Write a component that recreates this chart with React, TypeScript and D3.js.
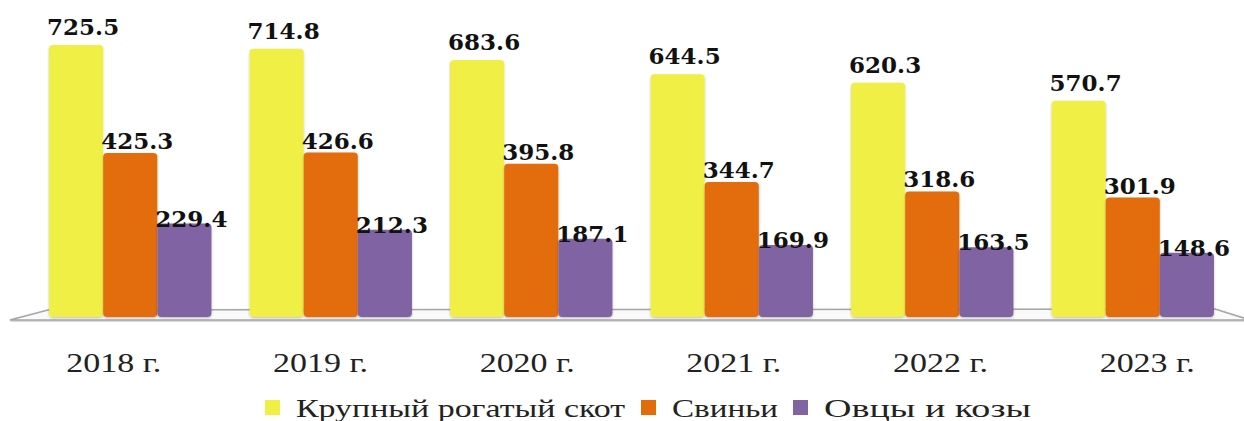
import React from 'react';
import * as d3 from 'd3';

// data
const years = ['2018 г.', '2019 г.', '2020 г.', '2021 г.', '2022 г.', '2023 г.'];
const seriesNames = ['Крупный рогатый скот', 'Свиньи', 'Овцы и козы'];
const cattle = [725.5, 714.8, 683.6, 644.5, 620.3, 570.7];
const pigs = [425.3, 426.6, 395.8, 344.7, 318.6, 301.9];
const sheep = [229.4, 212.3, 187.1, 169.9, 163.5, 148.6];
const colors = ['#f0ef44', '#e36c0a', '#8064a2'];

const W = 1244, H = 421;
const floorY = 317;
const labelFont = "'DejaVu Serif', serif";
const textFont = "'Liberation Serif', 'Times New Roman', serif";

const App = () => {
  const values = [cattle, pigs, sheep];

  // bars sit on the back edge of the floor, labels on its front edge
  const x = d3.scaleBand().domain(years).range([30, 1233]).paddingInner(0.19).paddingOuter(0.095);
  const xs = d3.scaleBand().domain(seriesNames).range([0, x.bandwidth()]);
  const xFront = d3.scaleBand().domain(years).range([10, 1250]);
  // floor of the 3d plot sits a bit below zero
  const y = d3.scaleLinear().domain([-30, 725.5]).range([floorY, 45]);

  const labelShift = [-10, -4, 3];

  // the source picture is stretched sideways, so the legend texts get fixed widths
  const legendItems = [
    { name: seriesNames[0], x: 265, w: 329 },
    { name: seriesNames[1], x: 641, w: 106 },
    { name: seriesNames[2], x: 793, w: 207 },
  ];

  return (
    <svg width={W} height={H} style={{ position: 'absolute', left: 0, top: 0, background: '#fff' }}>
      <defs>
        <filter id="sh" x="-10%" y="-10%" width="120%" height="120%">
          <feDropShadow dx="0" dy="1" stdDeviation="0.8" floodColor="#000" floodOpacity="0.25" />
        </filter>
      </defs>

      {/* floor */}
      <polygon
        points={`10,320 48,310 1215,309 1250,320`}
        fill="#fafafa"
        stroke="#a6a6a6"
        strokeWidth={1.5}
        filter="url(#sh)"
      />

      {/* bars */}
      {years.map((yr, i) => (
        <g key={yr} transform={`translate(${x(yr)},0)`}>
          {seriesNames.map((s, j) => {
            const v = values[j][i];
            const top = y(v);
            return (
              <rect
                key={s}
                x={xs(s)}
                y={top}
                width={xs.bandwidth()}
                height={y(-30) - top}
                rx={4}
                fill={colors[j]}
                filter="url(#sh)"
              />
            );
          })}
        </g>
      ))}

      {/* value labels */}
      {years.map((yr, i) => (
        <g key={'l' + yr} transform={`translate(${x(yr)},0)`}>
          {seriesNames.map((s, j) => {
            const v = values[j][i];
            const cx = (xs(s) as number) + xs.bandwidth() / 2 + 7;
            return (
              <text
                key={s}
                x={cx}
                y={y(v) + labelShift[j]}
                textAnchor="middle"
                fontFamily={labelFont}
                fontWeight="bold"
                fontSize={23}
                fill="#111"
              >
                {v.toFixed(1)}
              </text>
            );
          })}
        </g>
      ))}

      {/* category labels */}
      {years.map((yr) => (
        <text
          key={'c' + yr}
          x={(xFront(yr) as number) + xFront.bandwidth() / 2 - 47}
          y={372}
          textLength={95}
          lengthAdjust="spacingAndGlyphs"
          fontFamily={textFont}
          fontSize={28}
          fill="#222"
        >
          {yr}
        </text>
      ))}

      {/* legend */}
      {legendItems.map((d, j) => (
        <g key={d.name} transform={`translate(${d.x},400)`}>
          <rect width={15} height={15} fill={colors[j]} />
          <text
            x={31}
            y={17}
            textLength={d.w}
            lengthAdjust="spacingAndGlyphs"
            fontFamily={textFont}
            fontSize={25}
            fill="#222"
          >
            {d.name}
          </text>
        </g>
      ))}
    </svg>
  );
};

export default App;
